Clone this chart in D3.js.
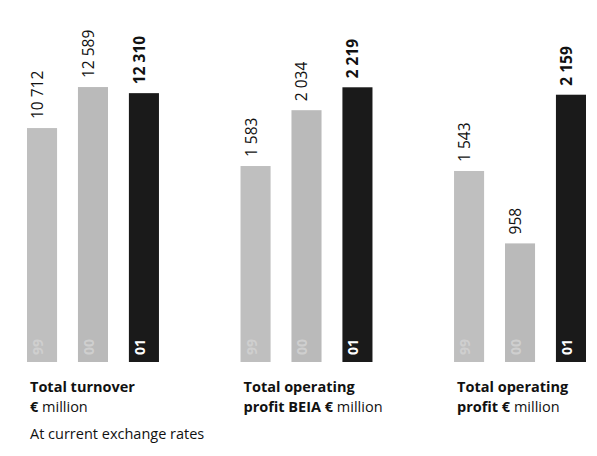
<!DOCTYPE html>
<html>
<head>
<meta charset="utf-8">
<script src="https://cdn.jsdelivr.net/npm/d3@7/dist/d3.min.js"></script>
<style>
  html, body { margin: 0; padding: 0; background: #fff; }
  svg { display: block; font-family: "Open Sans", "Noto Sans", sans-serif; }
</style>
</head>
<body>
<svg id="chart" width="597" height="456"></svg>
<script>
// ---- data ----
const categories = ["turnover", "profitBEIA", "profit"];
const years = ["99", "00", "01"];
const turnover = [10712, 12589, 12310];
const profitBEIA = [1583, 2034, 2219];
const profit = [1543, 958, 2159];
const valueLabels = [
  ["10 712", "12 589", "12 310"],
  ["1 583", "2 034", "2 219"],
  ["1 543", "958", "2 159"]
];
const titles = [
  [[["Total turnover", true]], [["€", true], [" million", false]]],
  [[["Total operating", true]], [["profit BEIA €", true], [" million", false]]],
  [[["Total operating", true]], [["profit €", true], [" million", false]]]
];
const note = "At current exchange rates";

const series = [turnover, profitBEIA, profit];

// ---- layout ----
const svg = d3.select("#chart");
const baseY = 362;

const xGroup = d3.scaleBand().domain(categories).range([27, 586]).paddingInner(0.382).paddingOuter(0);
const xYear = d3.scaleBand().domain(years).range([0, xGroup.bandwidth()]).paddingInner(0.41).paddingOuter(0);

const yTurnover = d3.scaleLinear().domain([0, 14000]).range([baseY, baseY - 14000 * 0.02184]);
const yProfit = d3.scaleLinear().domain([0, 2500]).range([baseY, baseY - 2500 * 0.1238]);
const yScales = [yTurnover, yProfit, yProfit];

const colors = { "99": "#bfbfbf", "00": "#bababa", "01": "#1a1a1a" };

categories.forEach((cat, gi) => {
  const g = svg.append("g").attr("transform", `translate(${xGroup(cat)},0)`);
  const y = yScales[gi];
  const data = years.map((yr, i) => ({ yr, v: series[gi][i], label: valueLabels[gi][i], bold: i === 2 }));

  g.selectAll("rect.bar").data(data).enter().append("rect")
    .attr("class", "bar")
    .attr("x", d => xYear(d.yr))
    .attr("y", d => y(d.v))
    .attr("width", xYear.bandwidth())
    .attr("height", d => y(0) - y(d.v))
    .attr("fill", d => colors[d.yr]);

  // value labels (rotated)
  g.selectAll("text.val").data(data).enter().append("text")
    .attr("class", "val")
    .attr("transform", d => `translate(${xYear(d.yr) + 16},${y(d.v) - 9}) rotate(-90)`)
    .attr("text-anchor", "start")
    .attr("font-size", 15.5)
    .attr("font-weight", d => d.bold ? 700 : 400)
    .attr("fill", "#111")
    .text(d => d.label);

  // year labels inside bars
  g.selectAll("text.yr").data(data).enter().append("text")
    .attr("class", "yr")
    .attr("transform", d => `translate(${xYear(d.yr) + 16},${baseY - 7}) rotate(-90)`)
    .attr("text-anchor", "start")
    .attr("font-size", 14)
    .attr("font-weight", 700)
    .attr("fill", d => d.yr === "01" ? "#fff" : "#cfcfcf")
    .text(d => d.yr);

  // titles
  const t = titles[gi];
  const lineY = [392, 412];
  t.forEach((parts, li) => {
    const txt = g.append("text")
      .attr("x", 3)
      .attr("y", lineY[li])
      .attr("font-size", 14.5)
      .attr("fill", "#111");
    parts.forEach(([s, b]) => {
      txt.append("tspan").attr("font-weight", b ? 700 : 400).text(s);
    });
  });
});

svg.append("text")
  .attr("x", 30)
  .attr("y", 439)
  .attr("font-size", 14.5)
  .attr("fill", "#111")
  .text(note);
</script>
</body>
</html>
